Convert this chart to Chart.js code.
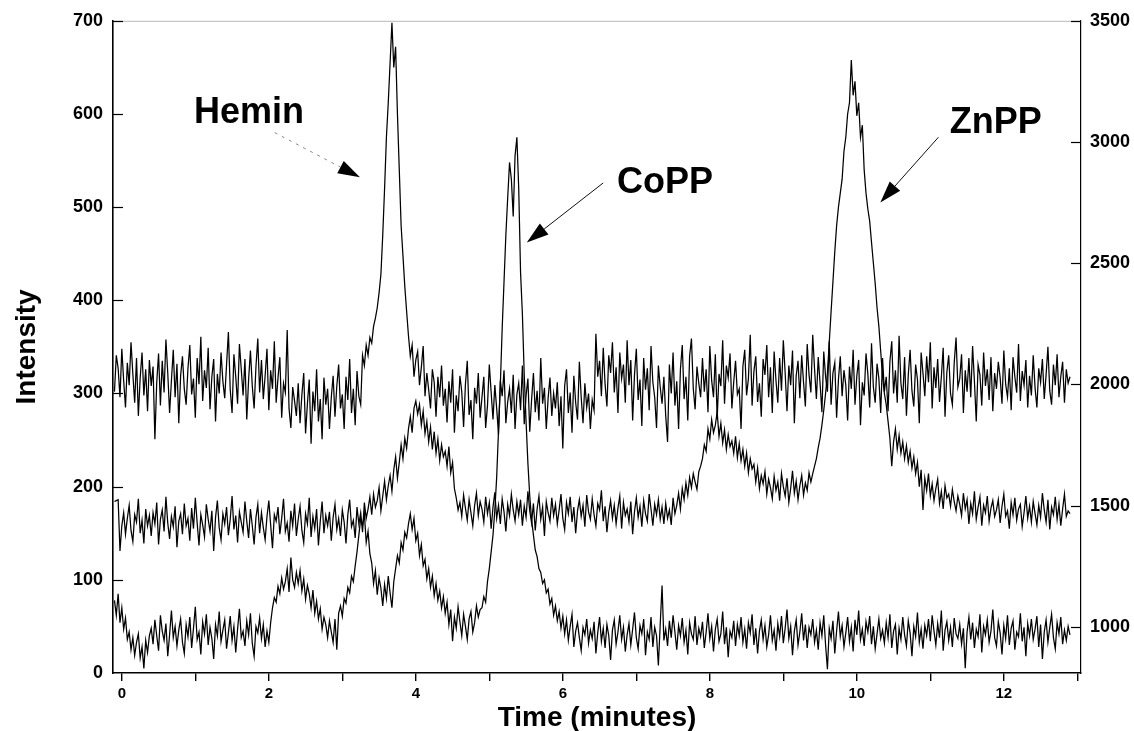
<!DOCTYPE html>
<html>
<head>
<meta charset="utf-8">
<script src="https://cdn.jsdelivr.net/npm/chart.js@4.4.0/dist/chart.umd.min.js"></script>
<style>
  html, body { margin: 0; padding: 0; background: #fff; }
  #wrap { width: 1134px; height: 731px; }
</style>
</head>
<body>
<div id="wrap"><canvas id="cromatograma" width="1134" height="731"></canvas></div>
<script>
// sampling of the three traces (minutes)
const T_START = -0.1;
const T_STEP = 0.025;

// upper trace (Hemin peak), left-axis units; one row = 0.5 min
const hemin = [
  302, 341, 327, 296, 348, 314, 285, 333, 309, 355, 321, 290, 338, 276, 317, 344, 298, 326, 281, 336, // -0.1
  308, 329, 251, 312, 343, 287, 335, 301, 358, 322, 279, 314, 347, 296, 332, 268, 319, 340, 305, 288, // 0.4
  327, 352, 299, 316, 274, 338, 310, 361, 292, 325, 306, 349, 283, 318, 337, 270, 321, 300, 344, 313, // 0.9
  295, 331, 366, 304, 279, 342, 318, 289, 353, 326, 298, 337, 272, 315, 346, 308, 284, 329, 359, 301, // 1.4
  336, 294, 319, 348, 282, 325, 305, 356, 290, 317, 339, 274, 311, 301, 368, 284, 263, 307, 292, 276, // 1.9
  311, 268, 299, 322, 257, 289, 315, 246, 302, 281, 326, 270, 294, 251, 317, 288, 305, 262, 296, 319, // 2.4
  275, 308, 331, 284, 299, 262, 318, 293, 337, 279, 305, 266, 324, 297, 288, 341, 330, 352, 341, 360, // 2.9
  354, 372, 381, 392, 408, 428, 470, 520, 575, 612, 655, 698, 650, 672, 600, 540, 480, 448, 415, 388, // 3.4
  362, 340, 352, 318, 336, 345, 309, 328, 351, 297, 322, 304, 284, 326, 312, 275, 318, 296, 330, 287, // 3.9
  305, 269, 313, 290, 326, 258, 298, 281, 319, 302, 264, 310, 335, 277, 293, 251, 306, 289, 322, 274, // 4.4
  296, 318, 263, 287, 331, 301, 272, 309, 284, 256, 314, 297, 325, 268, 291, 305, 279, 320, 262, 299, // 4.9
  311, 282, 330, 267, 298, 316, 259, 293, 322, 280, 303, 271, 338, 289, 306, 262, 295, 317, 276, 300, // 5.4
  284, 312, 265, 297, 241, 308, 326, 279, 301, 258, 319, 290, 272, 334, 296, 268, 311, 285, 300, 262, // 5.9
  293, 282, 364, 318, 335, 297, 349, 310, 286, 341, 322, 355, 301, 328, 279, 344, 316, 331, 290, 357, // 6.4
  309, 336, 271, 320, 348, 293, 315, 265, 338, 304, 327, 282, 351, 312, 296, 263, 330, 307, 289, 318, // 6.9
  276, 248, 331, 300, 344, 287, 313, 262, 326, 352, 294, 318, 271, 340, 359, 305, 283, 329, 311, 296, // 7.4
  338, 302, 326, 280, 351, 314, 296, 342, 273, 321, 308, 357, 289, 330, 317, 343, 284, 312, 335, 299, // 7.9
  305, 262, 329, 347, 298, 316, 363, 287, 324, 340, 291, 311, 275, 337, 320, 352, 296, 328, 279, 345, // 8.4
  314, 290, 338, 303, 357, 322, 281, 330, 309, 346, 268, 319, 335, 295, 341, 312, 286, 353, 320, 301, // 8.9
  363, 326, 294, 339, 311, 280, 345, 318, 302, 356, 288, 322, 333, 274, 315, 340, 297, 325, 309, 271, // 9.4
  329, 305, 347, 288, 319, 336, 266, 312, 298, 343, 321, 285, 354, 307, 290, 332, 316, 279, 338, 302, // 9.9
  318, 281, 334, 356, 300, 325, 290, 362, 311, 294, 339, 276, 320, 347, 303, 286, 331, 315, 268, 344, // 10.4
  322, 297, 340, 312, 355, 284, 328, 306, 337, 291, 318, 349, 275, 323, 341, 300, 288, 333, 360, 307, // 10.9
  316, 342, 279, 325, 302, 338, 296, 351, 313, 270, 331, 320, 287, 344, 308, 326, 293, 339, 281, 322, // 11.4
  305, 334, 317, 289, 346, 310, 296, 327, 282, 339, 318, 301, 353, 292, 324, 309, 336, 285, 319, 298, // 11.9
  341, 306, 285, 327, 312, 337, 294, 320, 350, 303, 288, 331, 309, 342, 296, 318, 334, 290, 326, 311, // 12.4
  318
];

// middle trace (ZnPP peak)
const znpp = [
  184, 185, 186, 131, 158, 172, 149, 166, 180, 153, 141, 170, 162, 187, 150, 164, 139, 176, 158, 169, // -0.1
  147, 172, 160, 183, 138, 165, 175, 152, 189, 161, 144, 168, 157, 179, 135, 163, 171, 149, 182, 158, // 0.4
  166, 142, 177, 155, 188, 161, 137, 170, 159, 146, 181, 165, 152, 174, 131, 167, 185, 156, 143, 171, // 0.9
  160, 178, 148, 165, 190, 154, 169, 140, 173, 162, 151, 184, 163, 145, 176, 158, 138, 167, 181, 150, // 1.4
  172, 156, 143, 168, 185, 159, 134, 170, 163, 178, 149, 166, 187, 152, 161, 141, 174, 158, 182, 147, // 1.9
  165, 179, 153, 140, 171, 160, 188, 146, 168, 155, 176, 137, 163, 184, 150, 169, 158, 173, 142, 167, // 2.4
  181, 154, 166, 147, 175, 162, 139, 170, 186, 157, 164, 145, 178, 160, 172, 151, 183, 166, 176, 189, // 2.9
  170, 192, 178, 185, 199, 174, 190, 206, 186, 201, 212, 195, 218, 232, 209, 226, 245, 230, 252, 241, // 3.4
  262, 275, 258, 284, 292, 278, 288, 266, 281, 257, 270, 248, 264, 240, 259, 236, 251, 228, 245, 232, // 3.9
  238, 222, 243, 215, 226, 198, 188, 175, 183, 168, 191, 177, 164, 186, 172, 158, 180, 193, 169, 184, // 4.4
  176, 162, 189, 171, 183, 155, 178, 194, 166, 180, 160, 187, 173, 152, 181, 169, 192, 175, 163, 184, // 4.9
  170, 186, 158, 179, 167, 195, 174, 161, 182, 153, 176, 190, 165, 178, 147, 184, 172, 163, 188, 169, // 5.4
  181, 160, 175, 192, 166, 154, 183, 171, 189, 162, 178, 150, 174, 186, 168, 180, 157, 191, 173, 165, // 5.9
  187, 170, 158, 182, 175, 196, 163, 179, 151, 172, 185, 166, 180, 160, 177, 190, 155, 183, 169, 176, // 6.4
  162, 184, 149, 173, 188, 167, 179, 157, 185, 171, 163, 192, 176, 158, 181, 170, 186, 165, 178, 160, // 6.9
  182, 166, 175, 159, 188, 171, 180, 193, 176, 198, 186, 204, 191, 210, 199, 214, 205, 197, 216, 222, // 7.4
  230, 245, 238, 262, 251, 272, 258, 266, 280, 254, 268, 247, 261, 240, 256, 243, 249, 236, 254, 231, // 7.9
  246, 228, 240, 222, 236, 215, 230, 219, 224, 205, 220, 198, 212, 203, 216, 192, 208, 199, 187, 211, // 8.4
  196, 205, 185, 214, 200, 190, 209, 183, 198, 217, 193, 206, 186, 201, 212, 191, 204, 196, 215, 205, // 8.9
  214, 222, 230, 242, 252, 266, 282, 300, 322, 355, 388, 420, 452, 480, 500, 515, 530, 560, 575, 600, // 9.4
  612, 658, 620, 635, 598, 612, 575, 588, 540, 515, 498, 485, 462, 440, 418, 392, 372, 345, 318, 300, // 9.9
  288, 270, 252, 222, 248, 262, 240, 255, 236, 248, 230, 244, 226, 238, 220, 232, 214, 226, 200, 218, // 10.4
  175, 209, 196, 214, 190, 203, 185, 198, 208, 182, 195, 176, 201, 188, 192, 179, 197, 184, 174, 190, // 10.9
  181, 169, 193, 176, 186, 160, 182, 171, 195, 165, 178, 189, 158, 180, 172, 190, 163, 177, 185, 168, // 11.4
  175, 186, 161, 179, 192, 168, 174, 155, 183, 170, 188, 164, 176, 181, 157, 172, 190, 166, 179, 162, // 11.9
  184, 171, 159, 180, 167, 193, 175, 162, 186, 154, 178, 170, 189, 165, 181, 158, 176, 192, 168, 174, // 12.4
  171
];

// lower trace (CoPP peak)
const copp = [
  78, 62, 85, 54, 70, 47, 59, 36, 44, 25, 38, 19, 33, 42, 16, 28, 5, 35, 22, 40, // -0.1
  48, 31, 57, 40, 24, 62, 45, 35, 53, 18, 41, 67, 38, 50, 29, 46, 58, 33, 21, 52, // 0.4
  39, 60, 27, 48, 71, 36, 44, 20, 55, 42, 63, 30, 49, 37, 15, 52, 40, 66, 34, 46, // 0.9
  57, 26, 43, 61, 35, 50, 22, 47, 69, 38, 45, 29, 56, 41, 64, 32, 18, 50, 43, 59, // 1.4
  37, 52, 28, 45, 33, 54, 70, 81, 76, 93, 85, 102, 90, 98, 112, 87, 124, 100, 92, 108, // 1.9
  96, 110, 88, 101, 79, 94, 85, 70, 89, 64, 77, 58, 69, 47, 60, 52, 38, 56, 44, 33, // 2.4
  58, 25, 64, 72, 61, 80, 75, 92, 86, 104, 98, 115, 130, 148, 166, 158, 171, 140, 152, 128, // 2.9
  118, 96, 110, 84, 102, 91, 72, 95, 80, 104, 86, 70, 98, 112, 126, 118, 140, 132, 151, 145, // 3.4
  160, 171, 154, 166, 142, 150, 126, 138, 115, 122, 101, 112, 92, 104, 83, 96, 78, 88, 70, 82, // 3.9
  64, 76, 52, 68, 34, 60, 48, 71, 55, 40, 63, 50, 36, 58, 66, 44, 54, 72, 60, 68, // 4.4
  70, 82, 76, 98, 112, 130, 148, 175, 210, 260, 310, 370, 420, 470, 510, 548, 530, 490, 555, 575, // 4.9
  520, 430, 385, 320, 270, 225, 190, 165, 148, 132, 125, 112, 108, 96, 100, 86, 90, 74, 80, 62, // 5.4
  72, 56, 66, 48, 61, 42, 57, 35, 50, 63, 28, 45, 54, 38, 24, 49, 41, 58, 32, 46, // 5.9
  37, 55, 21, 43, 60, 34, 48, 27, 52, 40, 14, 46, 57, 31, 44, 62, 36, 49, 23, 41, // 6.4
  53, 30, 47, 65, 38, 26, 51, 42, 58, 19, 44, 36, 60, 28, 49, 40, 8, 52, 94, 35, // 6.9
  47, 29, 56, 38, 62, 44, 25, 51, 40, 59, 33, 46, 20, 54, 42, 36, 61, 30, 48, 39, // 7.4
  55, 27, 44, 64, 37, 50, 23, 47, 58, 34, 42, 66, 31, 49, 17, 45, 38, 56, 29, 52, // 7.9
  40, 60, 33, 47, 26, 54, 43, 63, 30, 48, 21, 45, 57, 36, 51, 28, 41, 62, 35, 46, // 8.4
  24, 53, 39, 61, 32, 48, 68, 37, 50, 19, 45, 57, 30, 44, 64, 35, 52, 27, 49, 41, // 8.9
  58, 33, 46, 25, 54, 40, 62, 30, 4, 48, 37, 56, 21, 45, 66, 39, 51, 28, 43, 60, // 9.4
  34, 49, 23, 57, 41, 67, 36, 47, 29, 55, 44, 61, 31, 50, 26, 42, 58, 37, 46, 32, // 9.9
  54, 38, 63, 27, 45, 52, 20, 48, 36, 60, 41, 29, 56, 43, 18, 50, 39, 65, 33, 47, // 10.4
  26, 51, 40, 58, 34, 62, 45, 30, 53, 38, 67, 24, 46, 55, 35, 49, 28, 59, 42, 37, // 10.9
  52, 31, 48, 5, 44, 60, 36, 54, 27, 47, 39, 63, 22, 50, 41, 57, 33, 45, 68, 38, // 11.4
  29, 55, 43, 20, 51, 37, 62, 30, 48, 56, 25, 44, 39, 64, 34, 49, 18, 53, 40, 58, // 11.9
  36, 47, 61, 28, 52, 15, 44, 57, 33, 49, 63, 38, 26, 54, 42, 60, 31, 46, 35, 50, // 12.4
  41
];

const xLabels = [0, 2, 4, 6, 8, 10, 12];
const leftTicks = [0, 100, 200, 300, 400, 500, 600, 700];
const rightTicks = [1000, 1500, 2000, 2500, 3000, 3500];
const peakNames = ['Hemin', 'CoPP', 'ZnPP'];

// where the peak names and arrows sit, in data units (minutes, intensity)
const notes = [
  { at: [1.73, 590], from: [2.08, 580], to: [3.24, 532], dotted: true },
  { at: [7.39, 515], from: [6.55, 526], to: [5.51, 462] },
  { at: [11.89, 580], from: [11.11, 575], to: [10.32, 505] }
];

const FONT = "'Liberation Sans', Arial, Helvetica, sans-serif";
Chart.defaults.font.family = FONT;
Chart.defaults.color = '#000';

function toPoints(arr) {
  return arr.map((v, i) => ({ x: T_START + i * T_STEP, y: v }));
}

function arrow(ctx, x1, y1, x2, y2, dotted) {
  const ang = Math.atan2(y2 - y1, x2 - x1);
  const head = 22, half = 7;
  const bx = x2 - head * Math.cos(ang), by = y2 - head * Math.sin(ang);
  ctx.save();
  ctx.strokeStyle = dotted ? '#8a8a8a' : '#111';
  ctx.lineWidth = 1;
  if (dotted) ctx.setLineDash([3, 5]);
  ctx.beginPath();
  ctx.moveTo(x1, y1);
  ctx.lineTo(bx, by);
  ctx.stroke();
  ctx.setLineDash([]);
  ctx.fillStyle = '#000';
  ctx.beginPath();
  ctx.moveTo(x2, y2);
  ctx.lineTo(bx + half * Math.sin(ang), by - half * Math.cos(ang));
  ctx.lineTo(bx - half * Math.sin(ang), by + half * Math.cos(ang));
  ctx.closePath();
  ctx.fill();
  ctx.restore();
}

const overlay = {
  id: 'overlay',
  afterDraw(chart) {
    const { ctx, chartArea: a, scales } = chart;
    const sx = scales.x, sy = scales.y, sy2 = scales.y2;
    ctx.save();
    // faint top frame
    ctx.strokeStyle = '#b8b8b8';
    ctx.lineWidth = 1;
    ctx.beginPath();
    ctx.moveTo(a.left, a.top + 0.5);
    ctx.lineTo(a.right, a.top + 0.5);
    ctx.stroke();
    // inward tick marks on both y axes
    ctx.strokeStyle = '#000';
    ctx.lineWidth = 1.2;
    sy.ticks.forEach(t => {
      if (t.value === 0) return;
      const py = Math.round(sy.getPixelForValue(t.value)) + 0.5;
      ctx.beginPath(); ctx.moveTo(a.left, py); ctx.lineTo(a.left + 10, py); ctx.stroke();
    });
    sy2.ticks.forEach(t => {
      const py = Math.round(sy2.getPixelForValue(t.value)) + 0.5;
      ctx.beginPath(); ctx.moveTo(a.right - 10, py); ctx.lineTo(a.right, py); ctx.stroke();
    });
    // peak names with arrows
    ctx.font = 'bold 36px ' + FONT;
    ctx.textAlign = 'center';
    ctx.textBaseline = 'alphabetic';
    ctx.fillStyle = '#000';
    notes.forEach((n, i) => {
      ctx.fillText(peakNames[i], sx.getPixelForValue(n.at[0]), sy.getPixelForValue(n.at[1]));
      arrow(ctx,
        sx.getPixelForValue(n.from[0]), sy.getPixelForValue(n.from[1]),
        sx.getPixelForValue(n.to[0]), sy.getPixelForValue(n.to[1]), n.dotted);
    });
    ctx.restore();
  }
};

const lineStyle = { borderColor: '#000', borderWidth: 1.25, pointRadius: 0, tension: 0, fill: false };

new Chart(document.getElementById('cromatograma'), {
  type: 'line',
  data: {
    datasets: [
      { label: 'Hemin', data: toPoints(hemin), ...lineStyle },
      { label: 'ZnPP', data: toPoints(znpp), ...lineStyle },
      { label: 'CoPP', data: toPoints(copp), ...lineStyle }
    ]
  },
  options: {
    responsive: false,
    animation: false,
    events: [],
    layout: { padding: { top: 20, left: 0, right: 0, bottom: 0 } },
    plugins: { legend: { display: false }, tooltip: { enabled: false } },
    scales: {
      x: {
        type: 'linear',
        min: -0.12,
        max: 13.05,
        afterFit: s => { s.height = 58; },
        border: { display: true, color: '#000', width: 1.6 },
        grid: { display: true, drawOnChartArea: false, drawTicks: true, tickLength: 8, color: '#000', lineWidth: 1.4 },
        ticks: {
          stepSize: 1,
          includeBounds: false,
          autoSkip: false,
          maxRotation: 0,
          padding: 4,
          font: { size: 15, weight: 'bold' },
          callback: v => xLabels.includes(v) ? String(v) : ''
        },
        title: {
          display: true,
          text: 'Time (minutes)',
          font: { size: 28, weight: 'bold', lineHeight: 0.9 },
          padding: { top: 0, bottom: 0 }
        }
      },
      y: {
        position: 'left',
        min: 0,
        max: 700,
        afterFit: s => { s.width = 113; },
        afterBuildTicks: s => { s.ticks = leftTicks.map(v => ({ value: v })); },
        border: { display: true, color: '#000', width: 1.6 },
        grid: { display: true, drawOnChartArea: false, drawTicks: false },
        ticks: { padding: 10, font: { size: 18, weight: 'bold' }, callback: v => String(v) },
        title: {
          display: true,
          text: 'Intensity',
          font: { size: 28, weight: 'bold' },
          padding: { top: 10, bottom: 0 }
        }
      },
      y2: {
        position: 'right',
        min: 810,
        max: 3500,
        afterFit: s => { s.width = 53; },
        afterBuildTicks: s => { s.ticks = rightTicks.map(v => ({ value: v })); },
        border: { display: true, color: '#000', width: 1.2 },
        grid: { display: true, drawOnChartArea: false, drawTicks: false },
        ticks: { padding: 9, font: { size: 18, weight: 'bold' }, callback: v => String(v) }
      }
    }
  },
  plugins: [overlay]
});
</script>
</body>
</html>
